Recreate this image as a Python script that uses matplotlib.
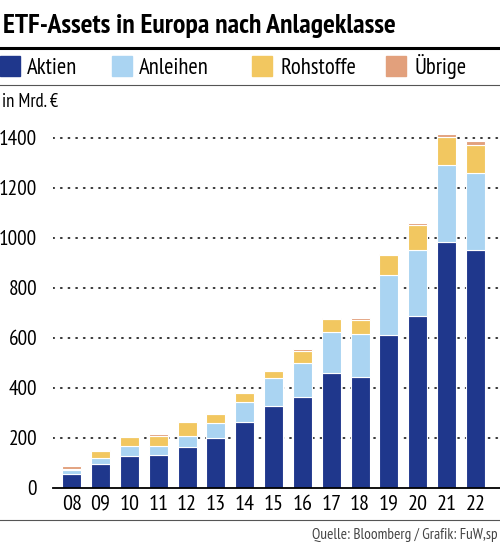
import matplotlib
matplotlib.use("Agg")
import matplotlib.pyplot as plt
from matplotlib import font_manager
from matplotlib.patches import Rectangle
from matplotlib.lines import Line2D
import numpy as np

years = ["08", "09", "10", "11", "12", "13", "14", "15", "16", "17", "18", "19", "20", "21", "22"]
aktien = [55, 96, 125, 129, 161, 200, 263, 327, 363, 458, 444, 610, 686, 984, 950]
anleihen = [16, 24, 42, 38, 46, 57, 81, 112, 137, 164, 171, 241, 266, 307, 308]
rohstoffe = [3, 27, 34, 40, 54, 36, 36, 27, 45, 51, 56, 78, 98, 113, 114]
uebrige = [13, 3, 3, 6, 4, 4, 3, 5, 8, 6, 8, 4, 10, 9, 16]
series_names = ["Aktien", "Anleihen", "Rohstoffe", "Übrige"]
yticks = [0, 200, 400, 600, 800, 1000, 1200, 1400]
title = "ETF-Assets in Europa nach Anlageklasse"
unit = "in Mrd. €"
source = "Quelle: Bloomberg / Grafik: FuW,sp"

colors = ["#1f378c", "#aad4f2", "#f2c760", "#e2a07c"]

avail = {f.name for f in font_manager.fontManager.ttflist}
prefs = ["PT Sans Narrow", "Roboto Condensed", "Fira Sans Condensed",
         "Open Sans Condensed", "Archivo Narrow", "Encode Sans Condensed",
         "Asap Condensed", "Barlow Semi Condensed", "IBM Plex Sans Condensed",
         "Liberation Sans Narrow"]
chosen = [p for p in prefs if p in avail]
if chosen:
    FAM = [chosen[0], "DejaVu Sans"]
    STRETCH = "normal"
else:
    FAM = ["DejaVu Sans"]
    STRETCH = "condensed"
plt.rcParams["font.family"] = FAM
plt.rcParams["font.stretch"] = STRETCH

W, H = 500, 545
fig = plt.figure(figsize=(W / 100, H / 100), dpi=100)

def fx(px):
    return px / W

def fy(py):
    return 1 - py / H

ymax = 1460
y0 = 487.7
ytop = y0 - ymax * 0.25
ax = fig.add_axes([fx(53), fy(y0), fx(500 - 53), (y0 - ytop) / H])

x = np.arange(len(years))
bottom = np.zeros(len(years))
for vals, c in zip([aktien, anleihen, rohstoffe, uebrige], colors):
    ax.bar(x, vals, width=0.66, bottom=bottom, color=c, edgecolor="white",
           linewidth=0.8, zorder=3)
    bottom += np.array(vals)

ax.set_xlim(-0.648, 14.85)
ax.set_ylim(0, ymax)
ax.set_yticks(yticks)
ax.set_yticklabels([str(v) for v in yticks])
ax.set_xticks(x)
ax.set_xticklabels(years)
for yv in yticks[1:]:
    ax.axhline(yv, color="black", linewidth=1.1, linestyle=(0, (0.9, 4.1)),
               dash_capstyle="round", zorder=1)
for s in ["top", "right", "left"]:
    ax.spines[s].set_visible(False)
ax.spines["bottom"].set_linewidth(1.3)
ax.spines["bottom"].set_zorder(4)
ax.tick_params(axis="x", length=0, labelsize=16, pad=5)
ax.tick_params(axis="y", length=0, labelsize=15.3, pad=11.5)
ax.set_facecolor("none")

fig.text(fx(3), fy(33), title, fontsize=20, fontweight="bold", ha="left",
         va="baseline", color="black")
fig.add_artist(Line2D([0, 1], [fy(47.7), fy(47.7)], color="black", linewidth=2.2))

sq_x = [0, 112, 252, 386]
lab_x = [27, 139, 280, 414]
for name, c, sx, lx in zip(series_names, colors, sq_x, lab_x):
    fig.add_artist(Rectangle((fx(sx), fy(76)), fx(19.5), 20 / H, color=c,
                             transform=fig.transFigure))
    fig.text(fx(lx), fy(74), name, fontsize=16.3, ha="left", va="baseline")
fig.add_artist(Line2D([0, 1], [fy(85), fy(85)], color="#555555", linewidth=0.8))

fig.text(fx(2), fy(107), unit, fontsize=13.4, ha="left", va="baseline")

fig.add_artist(Line2D([0, 1], [fy(520), fy(520)], color="#555555", linewidth=0.8))
fig.text(fx(498), fy(539), source, fontsize=11, ha="right", va="baseline",
         color="#444444")

fig.savefig("out.png", dpi=100)
